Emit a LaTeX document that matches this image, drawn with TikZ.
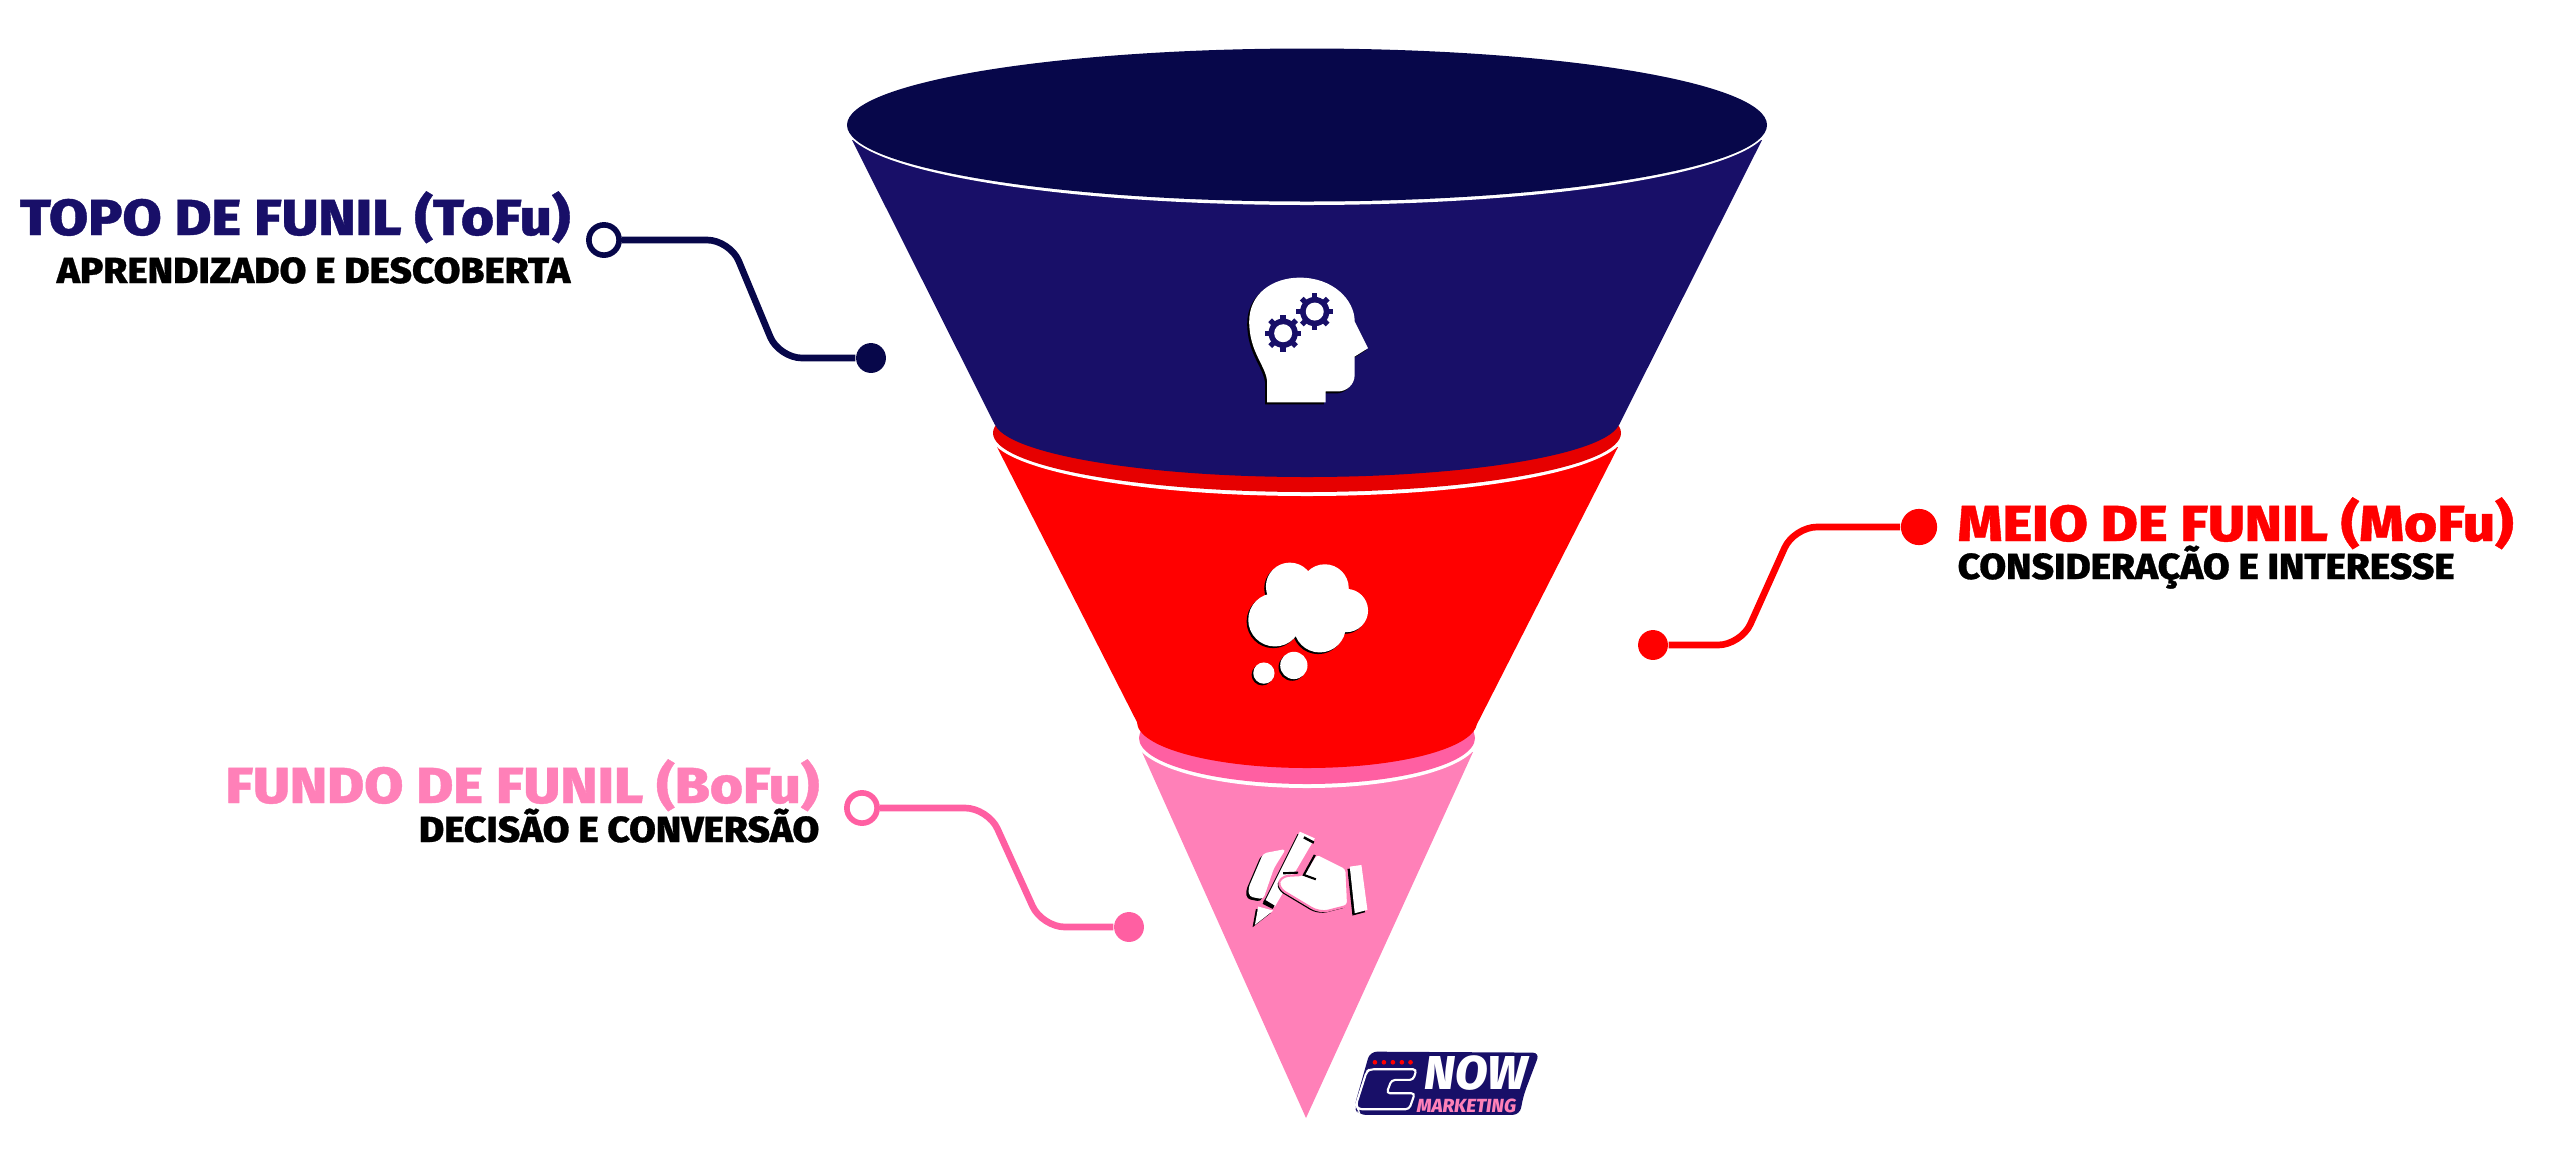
\documentclass[tikz,border=0pt]{standalone}
\usepackage{fontspec}
\setmainfont{Fira Sans}[BoldFont={Fira Sans ExtraBold}]
\newfontfamily\titlefont{Fira Sans ExtraBold}[FakeStretch=1.12,FakeBold=0.8]
\newfontfamily\subfont{Fira Sans ExtraBold}[FakeStretch=1.07,FakeBold=0.8]
\usepackage{tikz}
\definecolor{navytop}{HTML}{07074A}
\definecolor{navybody}{HTML}{180F68}
\definecolor{redrim}{HTML}{E60000}
\definecolor{redbody}{HTML}{FF0000}
\definecolor{pinkrim}{HTML}{FF5FA2}
\definecolor{pinkbody}{HTML}{FF80B8}
\tikzset{
  ring/.style = {shape=circle,draw=#1,fill=white,line width=1.6pt,inner sep=0pt,minimum size=8.6pt},
  dot/.style = {shape=circle,fill=#1,inner sep=0pt,minimum size=8.5pt},
  lead/.style = {draw=#1,line width=1.9pt,rounded corners=6.5pt},
  title/.style = {text=#1,font=\fontsize{14.4}{16}\selectfont\titlefont,inner sep=0pt},
  subtitle/.style = {text=black,font=\fontsize{10.3}{12}\selectfont\subfont,inner sep=0pt}
}
\begin{document}
\begin{tikzpicture}[x=0.01cm,y=-0.01cm]
\useasboundingbox (0,0) rectangle (2560,1169);
%pink section
\fill[pinkbody] (1142,752) -- (1306,1118) -- (1473,752) -- cycle;
\fill[white] (1307,738) ellipse [x radius=172,y radius=50];
\fill[pinkrim] (1307,738) ellipse [x radius=168,y radius=46];
%red section
\fill[redbody] (997,447) -- (1142,732) -- (1473,732) -- (1618,447) -- cycle;
\fill[redbody] (1307,722) ellipse [x radius=170,y radius=46];
\fill[white] (1307,433) ellipse [x radius=318,y radius=63];
\fill[redrim] (1307,433) ellipse [x radius=314,y radius=59];
%navy section
\fill[navybody] (852,140) -- (995,425) -- (1619,425) -- (1762,140) -- cycle;
\fill[navybody] (1307,420) ellipse [x radius=313,y radius=57];
\fill[white] (1307,125) ellipse [x radius=462,y radius=80];
\fill[navytop] (1307,125) ellipse [x radius=460,y radius=76.5];
%head
\begin{scope}[shift={(1160,250)},x=0.00333cm,y=-0.00333cm]
\foreach \off/\col in {-6/black,0/white}
  \fill[\col,shift={(\off,-\off)}] (322,458) -- (322,400) .. controls (322,350) and (268,310) .. (268,215)
    .. controls (268,130) and (340,83) .. (420,83) .. controls (520,83) and (585,150) .. (585,215)
    -- (625,295) -- (585,320) -- (585,375) .. controls (585,405) and (560,425) .. (535,425)
    -- (498,425) -- (498,458) -- cycle;
\foreach \gx/\gy in {370/250,465/185} {
  \foreach \ang in {0,45,...,315}
    \fill[navybody,shift={(\gx,\gy)},rotate=\ang] (-8,-55) rectangle (8,-30);
  \fill[navybody] (\gx,\gy) circle [radius=44];
  \fill[white] (\gx,\gy) circle [radius=27];
}
\end{scope}
%cloud
\begin{scope}[shift={(1200,520)},x=0.00333cm,y=-0.00333cm]
\foreach \off/\col in {-5/black,0/white}
  \foreach \cx/\cy/\r in {270/200/72,375/205/72,225/300/80,360/320/78,440/272/65,330/260/80,282/437/41,192/460/32}
    \fill[\col] (\cx+\off,\cy-\off) circle [radius=\r];
\end{scope}
%hand
\begin{scope}[shift={(1200,840)},x=0.00333cm,y=-0.00333cm]
\foreach \off/\col in {-7/black,0/white} {
  \fill[\col,shift={(\off,-\off)},rounded corners=1pt] (190,40) -- (258,27) -- (222,85) -- (190,178) -- (148,170) -- (145,145) -- cycle;
  \fill[\col,shift={(\off,-\off)}] (300,-25) -- (345,-5) -- (225,200) -- (195,185) -- cycle;
  \fill[\col,shift={(\off,-\off)}] (175,200) -- (220,212) -- (165,255) -- cycle;
  \fill[\col,shift={(\off,-\off)}] (450,80) -- (485,75) -- (503,210) -- (465,220) -- cycle;
}
\draw[black,line width=0.7pt] (192,182) -- (222,200) (312,-8) -- (342,8);
\fill[black,shift={(-5,5)},rounded corners=1pt] (350,40) -- (440,85) -- (445,197) -- (375,215) -- (345,210) -- (245,150) -- (235,125) -- (255,108) -- (310,105) -- cycle;
\draw[pinkbody,fill=white,line width=0.6pt,rounded corners=1pt] (350,40) -- (440,85) -- (445,197) -- (375,215) -- (345,210) -- (245,150) -- (235,125) -- (255,108) -- (310,105) -- cycle;
\draw[black,line width=0.6pt] (345,45) -- (312,105) -- (348,118) (250,100) -- (295,98);
\end{scope}
%logo
\begin{scope}[shift={(1320,1030)},x=0.00333cm,y=-0.00333cm]
\fill[navybody,rounded corners=2pt] (150,65) -- (660,68) -- (612,195) -- (600,255) -- (115,255) -- (103,230) -- cycle;
\draw[white,line width=0.6pt,rounded corners=1pt] (150,118) -- (290,118) -- (280,150) -- (215,150) -- (200,190) -- (285,190) -- (268,238) -- (115,238) -- (108,225) -- (140,125) -- cycle;
\foreach \sx in {165,192,219,246,272}
  \fill[red] (\sx,97) circle [radius=7];
\node[text=white,font=\fontsize{13.5}{14}\selectfont\bfseries\itshape,inner sep=0pt] (lognow) at (470,128) {NOW};
\node[text=pinkbody,font=\fontsize{5.4}{6}\selectfont\bfseries\itshape,inner sep=0pt] (logmark) at (440,228) {MARKETING};
\end{scope}
%tofu
\node[title=navybody,anchor=base east] (tofutitle) at (571,235) {TOPO DE FUNIL (ToFu)};
\node[subtitle,anchor=base east] (tofusub) at (571,283) {APRENDIZADO E DESCOBERTA};
\node[ring=navytop] (tofuring) at (604,240) {};
\node[dot=navytop] (tofudot) at (871,358) {};
\coordinate (tofua) at (730,240);
\coordinate (tofub) at (779,358);
\draw[lead=navytop] (tofuring) -- (tofua) -- (tofub) -- (tofudot);
%mofu
\node[title=redbody,anchor=base west] (mofutitle) at (1957,541) {MEIO DE FUNIL (MoFu)};
\node[subtitle,anchor=base west] (mofusub) at (1957,579) {CONSIDERAÇÃO E INTERESSE};
\node[dot=redbody,minimum size=10.3pt] (mofutop) at (1919,527) {};
\node[dot=redbody] (mofudot) at (1653,645) {};
\coordinate (mofua) at (1794,527);
\coordinate (mofub) at (1741,645);
\draw[lead=redbody] (mofutop) -- (mofua) -- (mofub) -- (mofudot);
%bofu
\node[title=pinkbody,anchor=base east] (bofutitle) at (820,803) {FUNDO DE FUNIL (BoFu)};
\node[subtitle,anchor=base east] (bofusub) at (820,842) {DECISÃO E CONVERSÃO};
\node[ring=pinkrim] (bofuring) at (862,808) {};
\node[dot=pinkrim] (bofudot) at (1129,927) {};
\coordinate (bofua) at (988,808);
\coordinate (bofub) at (1042,927);
\draw[lead=pinkrim] (bofuring) -- (bofua) -- (bofub) -- (bofudot);
\end{tikzpicture}
\end{document}
